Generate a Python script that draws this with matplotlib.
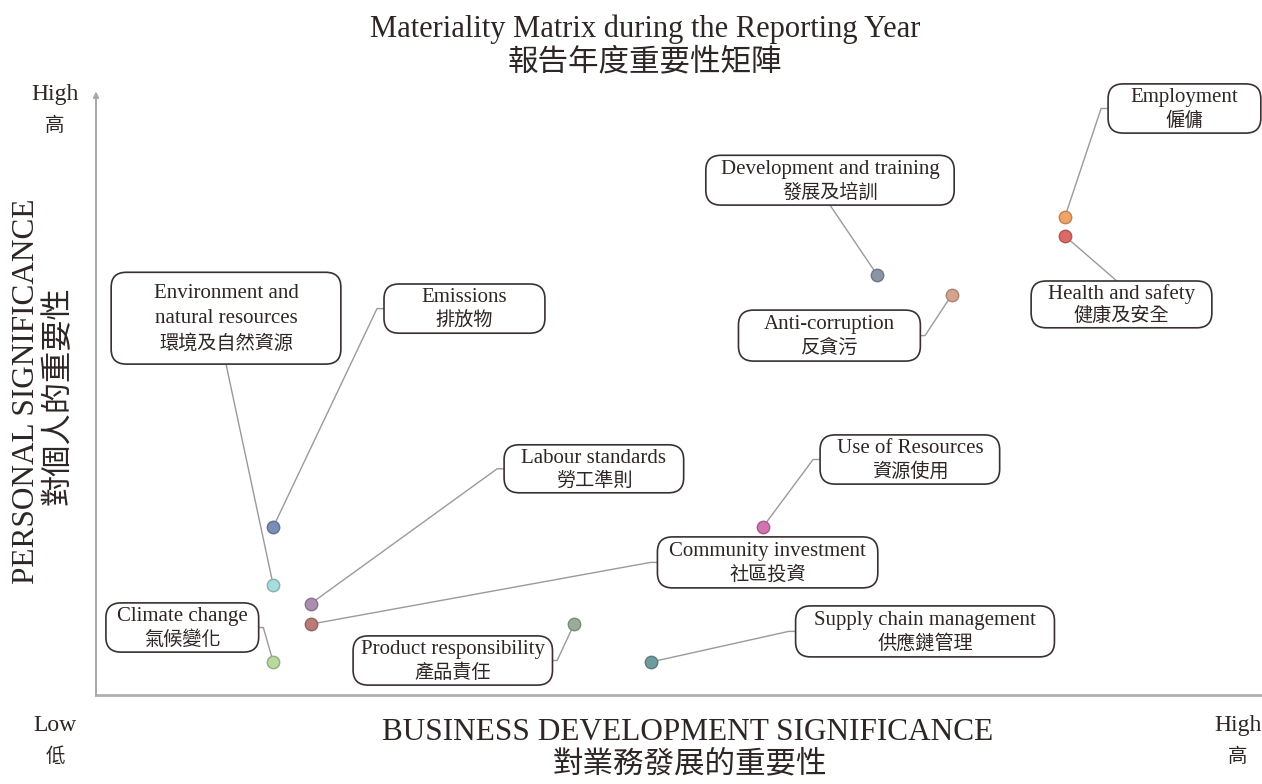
import matplotlib
matplotlib.use('Agg')
import matplotlib.pyplot as plt
import matplotlib.colors as mcolors
from matplotlib.patches import FancyBboxPatch

FONT = ['Liberation Serif', 'Noto Sans CJK TC', 'DejaVu Sans']
plt.rcParams['font.family'] = FONT
TXT = '#2e2624'

# 議題數據 (business significance, personal significance)
topics_en = ['Employment', 'Health and safety', 'Development and training', 'Anti-corruption',
             'Emissions', 'Environment and\nnatural resources', 'Labour standards',
             'Community investment', 'Climate change', 'Product responsibility',
             'Supply chain management', 'Use of Resources']
topics_zh = ['僱傭', '健康及安全', '發展及培訓', '反貪污',
             '排放物', '環境及自然資源', '勞工準則',
             '社區投資', '氣候變化', '產品責任',
             '供應鏈管理', '資源使用']
business = [83.1, 83.1, 67.0, 73.4, 15.2, 15.2, 18.4, 18.4, 15.2, 41.0, 47.6, 57.2]
personal = [79.7, 76.5, 70.0, 66.7, 28.0, 18.3, 15.2, 11.8, 5.5, 11.8, 5.5, 28.0]
colors = ['#F0A468', '#DC6A66', '#8A96A6', '#D4A38E', '#7A8FB5', '#A6DCDC',
          '#AA8EAE', '#B97C78', '#B8D8A0', '#98AE98', '#6E9C9E', '#D274B0']

# label box layout: centre x, centre y, width, height, side where the leader attaches
boxes = [
    (93.35, 97.75, 13.1, 8.2, 'left'),
    (87.95, 65.1, 15.5, 7.8, 'top'),
    (62.95, 85.8, 21.3, 8.3, 'bottom'),
    (62.9, 59.9, 15.6, 8.5, 'right'),
    (31.6, 64.4, 13.8, 8.2, 'left'),
    (11.15, 62.8, 19.7, 15.3, 'bottom'),
    (42.7, 37.7, 15.4, 8.0, 'left'),
    (57.6, 22.1, 18.9, 8.5, 'left'),
    (7.4, 11.25, 13.1, 8.2, 'right'),
    (30.6, 5.75, 17.1, 8.2, 'right'),
    (71.1, 10.6, 22.2, 8.5, 'left'),
    (69.8, 39.25, 15.4, 8.2, 'left'),
]

fig = plt.figure(figsize=(12.62, 7.84), dpi=100)
ax = fig.add_axes([96 / 1262, 89 / 784, 1166 / 1262, 600 / 784])
ax.set_xlim(0, 100)
ax.set_ylim(0, 100)
ax.axis('off')

# axes lines
ax.plot([0, 100], [0, 0], color='#B0B0B0', lw=2, clip_on=False, zorder=1)
ax.annotate('', xy=(0, 100.6), xytext=(0, -0.15),
            arrowprops=dict(arrowstyle='-|>', color='#A8A8A8', lw=1.4,
                            mutation_scale=8, shrinkA=0, shrinkB=0),
            annotation_clip=False)

for i in range(len(business)):
    cx, cy, w, h, side = boxes[i]
    px, py = business[i], personal[i]
    # leader line
    if side == 'left':
        xs = [cx - w / 2, cx - w / 2 - 0.6, px]
        ys = [cy, cy, py]
    elif side == 'right':
        xs = [cx + w / 2, cx + w / 2 + 0.4, px]
        ys = [cy, cy, py]
    elif side == 'top':
        xs = [cx - 0.4, px]
        ys = [cy + h / 2, py]
    else:
        xs = [cx, px]
        ys = [cy - h / 2, py]
    ax.plot(xs, ys, color='#9A9A9A', lw=1, zorder=2, clip_on=False)

    box = FancyBboxPatch((cx - w / 2, cy - h / 2), w, h,
                         boxstyle='round,pad=0,rounding_size=1.3',
                         mutation_aspect=1.9,
                         fc='white', ec='#3a3030', lw=1.2, zorder=3, clip_on=False)
    ax.add_patch(box)

    en = topics_en[i].split('\n')
    lines = en + [topics_zh[i]]
    step = 4.15 if len(lines) == 3 else 3.75
    top = cy - 0.1 + step * (len(lines) - 1) / 2
    for k, line in enumerate(lines):
        is_zh = k == len(lines) - 1
        ax.text(cx, top - k * step, line, ha='center', va='center',
                fontsize=13.8 if is_zh else 15, color=TXT, zorder=4, family=FONT)

    edge = tuple(c * 0.8 for c in mcolors.to_rgb(colors[i]))
    ax.scatter(px, py, s=80, color=colors[i], edgecolor=edge, linewidth=1,
               zorder=5, clip_on=False)

# titles
fig.text(0.511, 0.963, 'Materiality Matrix during the Reporting Year',
         ha='center', va='center', fontsize=22, color=TXT)
fig.text(0.511, 0.920, '報告年度重要性矩陣', ha='center', va='center',
         fontsize=22, color=TXT)

fig.text(0.545, 0.066, 'BUSINESS DEVELOPMENT SIGNIFICANCE', ha='center', va='center',
         fontsize=22.5, color=TXT)
fig.text(0.547, 0.024, '對業務發展的重要性', ha='center', va='center',
         fontsize=22, color=TXT)

fig.text(0.021, 0.501, 'PERSONAL SIGNIFICANCE', ha='center', va='center',
         rotation=90, fontsize=22.5, color=TXT)
fig.text(0.047, 0.496, '對個人的重要性', ha='center', va='center',
         rotation=90, fontsize=22.5, color=TXT)

for xx, yy, en, zh in [(0.0436, 0.879, 'High', '高'), (0.0436, 0.074, 'Low', '低'),
                       (0.981, 0.074, 'High', '高')]:
    fig.text(xx, yy, en, ha='center', va='center', fontsize=17, color=TXT)
    fig.text(xx, yy - 0.039, zh, ha='center', va='center', fontsize=14, color=TXT)

fig.savefig('out.png', dpi=100, facecolor='white')
